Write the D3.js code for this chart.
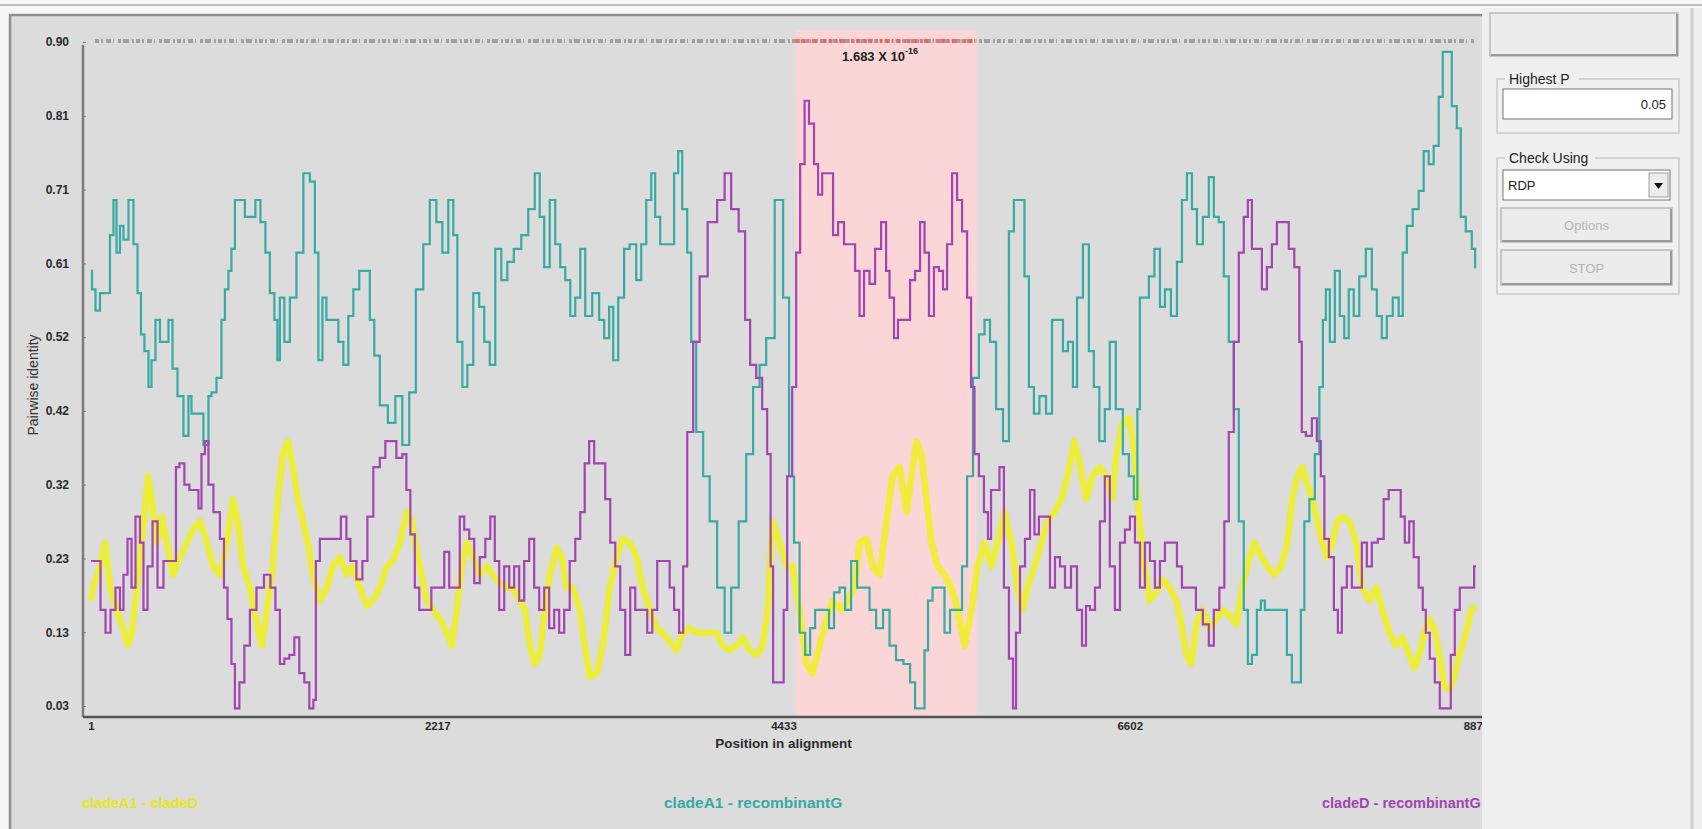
<!DOCTYPE html>
<html>
<head>
<meta charset="utf-8">
<script src="https://cdn.jsdelivr.net/npm/d3@7"></script>
<style>
  body { margin: 0; background: #ffffff; overflow: hidden; }
  svg { display: block; font-family: "Liberation Sans", Arial, sans-serif; }
</style>
</head>
<body>
<svg id="chart" width="1702" height="829"></svg>
<script>
// alignment length and axis labels
const seqLength = 8870;
const xTickLabels = ["1", "2217", "4433", "6602", "8870"];
const yTickLabels = ["0.03", "0.13", "0.23", "0.32", "0.42", "0.52", "0.61", "0.71", "0.81", "0.90"];
const yTickMin = 0.03;
const yTickMax = 0.9;

const seriesNames = ["cladeA1 - cladeD", "cladeA1 - recombinantG", "cladeD - recombinantG"];
const seriesColors = ["#f0f01e", "#36aaa3", "#a244b1"];

// recombination region (alignment positions) and its p-value
const regionStart = 4513;
const regionEnd = 5671;
const regionP = "1.683 X 10";
const regionPExp = "-16";

// [position, pairwise identity]
const yellowPoints = [[1,0.168],[14,0.185],[59,0.213],[91,0.244],[123,0.185],[167,0.156],[206,0.132],[238,0.109],[263,0.126],[295,0.185],[334,0.261],[366,0.331],[391,0.301],[423,0.244],[455,0.278],[487,0.244],[526,0.202],[571,0.225],[615,0.244],[654,0.261],[699,0.272],[743,0.244],[782,0.213],[827,0.202],[871,0.244],[910,0.301],[942,0.272],[974,0.213],[1019,0.185],[1063,0.137],[1095,0.109],[1127,0.156],[1166,0.213],[1198,0.301],[1230,0.360],[1262,0.377],[1294,0.343],[1326,0.301],[1358,0.272],[1390,0.244],[1422,0.202],[1467,0.168],[1511,0.185],[1550,0.213],[1595,0.225],[1639,0.202],[1678,0.213],[1723,0.185],[1767,0.161],[1806,0.168],[1851,0.185],[1895,0.213],[1934,0.220],[1979,0.244],[2023,0.284],[2055,0.272],[2075,0.244],[2107,0.213],[2151,0.168],[2190,0.156],[2235,0.144],[2279,0.126],[2311,0.109],[2343,0.156],[2375,0.213],[2407,0.244],[2446,0.225],[2491,0.202],[2535,0.213],[2574,0.202],[2619,0.191],[2663,0.185],[2702,0.185],[2747,0.168],[2779,0.156],[2811,0.109],[2843,0.085],[2875,0.097],[2907,0.156],[2939,0.202],[2983,0.237],[3015,0.225],[3047,0.185],[3086,0.185],[3131,0.156],[3163,0.109],[3195,0.068],[3239,0.073],[3278,0.109],[3323,0.185],[3367,0.225],[3406,0.249],[3451,0.244],[3495,0.225],[3534,0.185],[3579,0.156],[3623,0.132],[3662,0.126],[3707,0.114],[3751,0.103],[3790,0.126],[3835,0.132],[3879,0.126],[4007,0.126],[4046,0.109],[4091,0.103],[4135,0.109],[4174,0.120],[4219,0.103],[4263,0.097],[4302,0.109],[4334,0.156],[4366,0.272],[4410,0.244],[4455,0.213],[4494,0.213],[4538,0.156],[4583,0.085],[4622,0.073],[4667,0.109],[4711,0.144],[4750,0.168],[4807,0.156],[4846,0.168],[4891,0.185],[4923,0.244],[4967,0.249],[5006,0.213],[5051,0.202],[5095,0.272],[5134,0.331],[5178,0.343],[5223,0.284],[5255,0.331],[5287,0.377],[5319,0.360],[5351,0.301],[5383,0.244],[5422,0.213],[5467,0.202],[5511,0.185],[5550,0.156],[5595,0.109],[5639,0.156],[5678,0.213],[5723,0.244],[5767,0.213],[5806,0.244],[5851,0.284],[5895,0.244],[5934,0.185],[5966,0.156],[5998,0.185],[6043,0.213],[6087,0.244],[6126,0.272],[6171,0.284],[6215,0.301],[6254,0.331],[6299,0.377],[6331,0.348],[6375,0.301],[6414,0.331],[6459,0.343],[6503,0.331],[6541,0.301],[6567,0.360],[6606,0.401],[6651,0.407],[6683,0.360],[6715,0.272],[6747,0.213],[6779,0.168],[6823,0.179],[6862,0.196],[6907,0.185],[6951,0.168],[6983,0.137],[7015,0.097],[7047,0.085],[7079,0.137],[7118,0.156],[7163,0.132],[7207,0.144],[7246,0.156],[7291,0.149],[7335,0.137],[7374,0.185],[7419,0.225],[7451,0.244],[7495,0.225],[7534,0.213],[7579,0.202],[7623,0.213],[7662,0.244],[7694,0.301],[7726,0.331],[7758,0.343],[7790,0.320],[7822,0.301],[7854,0.272],[7886,0.244],[7918,0.225],[7950,0.244],[7982,0.272],[8014,0.278],[8059,0.272],[8103,0.244],[8142,0.185],[8187,0.168],[8231,0.185],[8270,0.156],[8315,0.126],[8359,0.109],[8398,0.120],[8443,0.097],[8475,0.080],[8507,0.097],[8539,0.126],[8571,0.144],[8603,0.132],[8635,0.097],[8667,0.056],[8699,0.051],[8731,0.068],[8763,0.097],[8807,0.126],[8839,0.156],[8870,0.161]];

const tealPoints = [[1,0.600],[14,0.576],[46,0.548],[71,0.571],[110,0.571],[135,0.647],[155,0.693],[174,0.624],[199,0.659],[219,0.641],[263,0.693],[283,0.635],[315,0.571],[327,0.517],[359,0.495],[379,0.448],[398,0.483],[430,0.536],[455,0.507],[487,0.507],[507,0.536],[539,0.472],[571,0.436],[615,0.384],[635,0.436],[654,0.413],[699,0.413],[743,0.372],[763,0.436],[782,0.441],[827,0.460],[846,0.536],[871,0.576],[891,0.600],[910,0.629],[935,0.693],[974,0.693],[999,0.671],[1038,0.671],[1070,0.693],[1102,0.664],[1134,0.624],[1159,0.571],[1191,0.536],[1198,0.483],[1223,0.565],[1255,0.507],[1294,0.565],[1339,0.624],[1383,0.728],[1422,0.717],[1447,0.624],[1467,0.483],[1499,0.565],[1518,0.536],[1575,0.536],[1595,0.507],[1639,0.477],[1659,0.541],[1703,0.576],[1735,0.600],[1774,0.600],[1799,0.536],[1831,0.489],[1870,0.424],[1934,0.401],[1966,0.436],[2023,0.372],[2055,0.441],[2107,0.576],[2151,0.635],[2190,0.693],[2235,0.664],[2267,0.624],[2311,0.693],[2331,0.647],[2363,0.507],[2395,0.448],[2427,0.477],[2471,0.571],[2503,0.553],[2535,0.507],[2574,0.477],[2606,0.629],[2651,0.588],[2683,0.612],[2734,0.629],[2779,0.647],[2823,0.681],[2862,0.728],[2887,0.671],[2919,0.605],[2958,0.693],[2990,0.635],[3022,0.605],[3054,0.588],[3086,0.541],[3118,0.565],[3150,0.629],[3182,0.541],[3239,0.571],[3271,0.536],[3303,0.512],[3335,0.553],[3355,0.483],[3399,0.565],[3431,0.629],[3470,0.635],[3515,0.588],[3534,0.635],[3579,0.693],[3598,0.728],[3630,0.671],[3662,0.635],[3719,0.635],[3751,0.728],[3771,0.757],[3803,0.681],[3835,0.624],[3854,0.507],[3899,0.389],[3943,0.331],[3982,0.272],[4039,0.185],[4078,0.126],[4123,0.185],[4174,0.272],[4219,0.360],[4263,0.448],[4302,0.477],[4347,0.512],[4411,0.693],[4455,0.565],[4487,0.331],[4519,0.244],[4558,0.126],[4590,0.097],[4622,0.132],[4654,0.156],[4711,0.156],[4743,0.132],[4775,0.179],[4814,0.185],[4846,0.156],[4891,0.220],[4923,0.185],[4967,0.185],[5006,0.156],[5051,0.132],[5095,0.156],[5134,0.109],[5178,0.090],[5230,0.085],[5262,0.061],[5294,0.027],[5326,0.027],[5351,0.103],[5371,0.168],[5409,0.185],[5447,0.185],[5486,0.126],[5518,0.156],[5563,0.156],[5595,0.213],[5627,0.331],[5671,0.460],[5703,0.517],[5742,0.536],[5774,0.507],[5819,0.419],[5863,0.377],[5895,0.652],[5927,0.693],[5966,0.693],[5991,0.593],[6023,0.448],[6055,0.413],[6094,0.436],[6139,0.413],[6171,0.536],[6215,0.536],[6235,0.495],[6279,0.507],[6299,0.448],[6331,0.565],[6375,0.635],[6407,0.495],[6439,0.448],[6477,0.377],[6509,0.419],[6541,0.507],[6586,0.419],[6631,0.360],[6663,0.331],[6695,0.301],[6708,0.419],[6727,0.565],[6759,0.565],[6791,0.593],[6830,0.629],[6862,0.553],[6894,0.576],[6939,0.541],[6971,0.612],[7003,0.693],[7035,0.728],[7067,0.681],[7099,0.635],[7143,0.671],[7175,0.723],[7207,0.671],[7239,0.664],[7271,0.593],[7303,0.507],[7335,0.419],[7367,0.272],[7399,0.156],[7419,0.085],[7451,0.097],[7483,0.156],[7502,0.168],[7534,0.156],[7643,0.156],[7675,0.097],[7707,0.061],[7739,0.061],[7758,0.156],[7784,0.272],[7822,0.301],[7854,0.360],[7880,0.448],[7899,0.536],[7918,0.576],[7950,0.507],[7982,0.600],[8014,0.541],[8039,0.512],[8071,0.576],[8103,0.541],[8142,0.593],[8187,0.629],[8219,0.576],[8251,0.541],[8283,0.512],[8315,0.541],[8359,0.565],[8391,0.541],[8411,0.624],[8443,0.659],[8487,0.681],[8519,0.705],[8551,0.757],[8583,0.740],[8615,0.764],[8647,0.828],[8667,0.887],[8699,0.887],[8731,0.816],[8763,0.787],[8782,0.671],[8827,0.652],[8859,0.629],[8870,0.605]];

const purplePoints = [[1,0.220],[46,0.220],[78,0.156],[110,0.126],[142,0.156],[174,0.185],[199,0.156],[219,0.202],[251,0.249],[270,0.185],[302,0.278],[327,0.244],[347,0.156],[379,0.213],[411,0.272],[443,0.185],[487,0.220],[539,0.220],[551,0.343],[583,0.348],[615,0.320],[647,0.313],[679,0.313],[699,0.289],[718,0.360],[743,0.377],[763,0.320],[807,0.284],[846,0.249],[859,0.185],[891,0.144],[910,0.085],[935,0.027],[967,0.061],[999,0.109],[1038,0.156],[1083,0.185],[1134,0.202],[1166,0.185],[1198,0.156],[1223,0.085],[1255,0.092],[1287,0.097],[1319,0.120],[1351,0.073],[1383,0.061],[1415,0.027],[1435,0.038],[1447,0.220],[1486,0.249],[1575,0.249],[1627,0.278],[1646,0.249],[1678,0.220],[1723,0.196],[1755,0.220],[1787,0.278],[1831,0.343],[1870,0.355],[1902,0.377],[1934,0.377],[1979,0.355],[2011,0.360],[2030,0.313],[2062,0.255],[2087,0.185],[2119,0.156],[2158,0.156],[2203,0.185],[2247,0.185],[2279,0.232],[2311,0.185],[2350,0.185],[2375,0.278],[2407,0.261],[2439,0.249],[2471,0.191],[2510,0.225],[2542,0.249],[2574,0.278],[2599,0.220],[2631,0.156],[2663,0.213],[2695,0.185],[2727,0.213],[2759,0.168],[2791,0.220],[2823,0.249],[2855,0.185],[2887,0.156],[2919,0.185],[2951,0.132],[2983,0.156],[3015,0.126],[3047,0.156],[3086,0.220],[3118,0.249],[3150,0.284],[3175,0.348],[3207,0.377],[3239,0.348],[3278,0.348],[3310,0.301],[3342,0.244],[3374,0.213],[3406,0.156],[3438,0.097],[3470,0.185],[3502,0.156],[3547,0.156],[3579,0.126],[3611,0.156],[3643,0.220],[3694,0.220],[3719,0.185],[3751,0.156],[3783,0.126],[3803,0.213],[3835,0.389],[3879,0.507],[3918,0.593],[3982,0.664],[4039,0.693],[4078,0.728],[4123,0.681],[4174,0.652],[4206,0.536],[4238,0.477],[4283,0.460],[4315,0.419],[4347,0.360],[4359,0.213],[4379,0.061],[4430,0.061],[4443,0.156],[4475,0.331],[4507,0.448],[4526,0.624],[4558,0.740],[4583,0.823],[4615,0.793],[4647,0.740],[4667,0.700],[4699,0.728],[4743,0.728],[4763,0.647],[4807,0.664],[4839,0.635],[4878,0.635],[4910,0.600],[4935,0.541],[4967,0.600],[5006,0.583],[5038,0.629],[5083,0.664],[5102,0.600],[5127,0.565],[5159,0.512],[5178,0.536],[5230,0.536],[5262,0.588],[5294,0.600],[5326,0.664],[5351,0.624],[5383,0.541],[5415,0.605],[5447,0.600],[5467,0.576],[5499,0.635],[5531,0.728],[5563,0.693],[5595,0.652],[5627,0.565],[5646,0.448],[5671,0.360],[5703,0.331],[5735,0.284],[5755,0.249],[5774,0.313],[5806,0.313],[5831,0.343],[5863,0.185],[5895,0.092],[5915,0.027],[5934,0.126],[5966,0.213],[5998,0.249],[6030,0.313],[6055,0.255],[6087,0.278],[6126,0.278],[6158,0.185],[6190,0.225],[6222,0.213],[6254,0.185],[6299,0.213],[6331,0.156],[6363,0.109],[6382,0.161],[6414,0.156],[6446,0.185],[6477,0.272],[6509,0.331],[6541,0.213],[6574,0.156],[6606,0.244],[6638,0.261],[6670,0.278],[6702,0.244],[6734,0.185],[6766,0.244],[6798,0.220],[6830,0.185],[6862,0.220],[6894,0.244],[6939,0.244],[6971,0.213],[7003,0.185],[7054,0.185],[7099,0.156],[7143,0.137],[7175,0.109],[7207,0.156],[7246,0.185],[7271,0.272],[7303,0.389],[7335,0.507],[7367,0.624],[7399,0.671],[7419,0.693],[7451,0.629],[7483,0.629],[7515,0.576],[7547,0.605],[7579,0.635],[7611,0.664],[7655,0.664],[7687,0.629],[7726,0.605],[7751,0.507],[7758,0.389],[7803,0.384],[7835,0.407],[7867,0.377],[7886,0.331],[7912,0.249],[7944,0.225],[7976,0.156],[7995,0.126],[8027,0.185],[8059,0.213],[8091,0.185],[8123,0.185],[8155,0.244],[8187,0.213],[8219,0.244],[8263,0.249],[8295,0.301],[8327,0.313],[8378,0.313],[8398,0.278],[8430,0.244],[8455,0.272],[8487,0.225],[8519,0.185],[8539,0.156],[8558,0.126],[8590,0.092],[8622,0.061],[8654,0.027],[8699,0.027],[8718,0.097],[8750,0.156],[8782,0.185],[8846,0.185],[8870,0.213]];

// side panel values
const highestP = "0.05";
const checkUsing = "RDP";

(() => {
  const svg = d3.select("#chart");
  const W = 1702, H = 829;
  const panel = { left: 10, top: 15, right: 1482 };
  const plot = { left: 83, top: 45, right: 1482, bottom: 717 };

  // window background
  svg.append("rect").attr("width", W).attr("height", H).attr("fill", "#f7f7f7");
  svg.append("line")
    .attr("x1", 0).attr("x2", W).attr("y1", 5).attr("y2", 5)
    .attr("stroke", "#bdbdbd").attr("stroke-width", 2);

  // grey graph panel
  svg.append("rect")
    .attr("x", panel.left).attr("y", panel.top)
    .attr("width", panel.right - panel.left).attr("height", H - panel.top)
    .attr("fill", "#dcdcdc");
  svg.append("path")
    .attr("d", `M${panel.left},${H} V${panel.top} H${panel.right}`)
    .attr("fill", "none").attr("stroke", "#8f8f8f").attr("stroke-width", 2.5);

  const x = d3.scaleLinear().domain([1, seqLength]).range([91, 1476]);
  const y = d3.scaleLinear().domain([yTickMin, yTickMax]).range([706, 42]);

  // recombinant region
  svg.append("rect")
    .attr("x", x(regionStart)).attr("y", 30)
    .attr("width", x(regionEnd) - x(regionStart))
    .attr("height", plot.bottom - 30)
    .attr("fill", "#fbd6d6");

  // informative sites strip along the top
  svg.append("line")
    .attr("x1", x(1) + 4).attr("x2", x(seqLength))
    .attr("y1", 41).attr("y2", 41)
    .attr("stroke", "#6e6e6e").attr("stroke-width", 4).attr("opacity", 0.55)
    .attr("stroke-dasharray", "4 2 2 3 5 2 1 4 3 2 6 3 2 2");
  svg.append("line")
    .attr("x1", x(regionStart)).attr("x2", x(regionEnd))
    .attr("y1", 41).attr("y2", 41)
    .attr("stroke", "#e85a5a").attr("stroke-width", 4).attr("opacity", 0.8)
    .attr("stroke-dasharray", "3 2 4 3 2 2 5 4 1 2");

  svg.append("text")
    .attr("x", x((regionStart + regionEnd) / 2) - 6).attr("y", 61)
    .attr("text-anchor", "middle")
    .attr("font-size", 13).attr("font-weight", "bold").attr("fill", "#222")
    .text(regionP)
    .append("tspan").attr("dy", -7).attr("font-size", 9).text(regionPExp);

  // lines: the identity plots are step-like (window moves site by site)
  const line = d3.line()
    .x((d) => x(d[0]))
    .y((d) => y(d[1]));

  svg.append("path").datum(yellowPoints)
    .attr("d", line.curve(d3.curveLinear)).attr("fill", "none")
    .attr("stroke", seriesColors[0]).attr("stroke-width", 6.5)
    .attr("stroke-linejoin", "round").attr("opacity", 0.85);
  svg.append("path").datum(tealPoints)
    .attr("d", line.curve(d3.curveStep)).attr("fill", "none")
    .attr("stroke", seriesColors[1]).attr("stroke-width", 2.2);
  svg.append("path").datum(purplePoints)
    .attr("d", line.curve(d3.curveStep)).attr("fill", "none")
    .attr("stroke", seriesColors[2]).attr("stroke-width", 2.2);

  // axes
  const yTicks = d3.range(yTickLabels.length).map(
    (i) => yTickMin + (i * (yTickMax - yTickMin)) / (yTickLabels.length - 1)
  );
  const yAxis = svg.append("g")
    .attr("transform", `translate(${plot.left},0)`)
    .call(d3.axisLeft(y).tickValues(yTicks).tickFormat((d, i) => yTickLabels[i]).tickSize(3).tickSizeOuter(0).tickPadding(11));
  yAxis.select(".domain").remove();
  yAxis.selectAll("line").attr("stroke", "#777").attr("x2", 3);
  yAxis.selectAll("text").attr("font-size", 12).attr("font-weight", "bold").attr("fill", "#2a2a2a")
    .attr("font-family", "'Liberation Sans', Arial, sans-serif");
  svg.append("line")
    .attr("x1", plot.left).attr("x2", plot.left)
    .attr("y1", plot.top).attr("y2", plot.bottom)
    .attr("stroke", "#7a7a7a").attr("stroke-width", 2.5);

  const xTicks = d3.range(xTickLabels.length).map(
    (i) => 1 + (i * (seqLength - 1)) / (xTickLabels.length - 1)
  );
  const xAxis = svg.append("g")
    .attr("transform", `translate(0,${plot.bottom})`)
    .call(d3.axisBottom(x).tickValues(xTicks).tickFormat((d, i) => xTickLabels[i]).tickSize(0).tickPadding(5));
  xAxis.select(".domain").remove();
  xAxis.selectAll("text").attr("font-size", 11.5).attr("font-weight", "bold").attr("fill", "#2a2a2a")
    .attr("font-family", "'Liberation Sans', Arial, sans-serif");
  svg.append("line")
    .attr("x1", plot.left).attr("x2", plot.right)
    .attr("y1", plot.bottom).attr("y2", plot.bottom)
    .attr("stroke", "#555").attr("stroke-width", 2.5);

  svg.append("text")
    .attr("x", x(xTicks[2])).attr("y", 748)
    .attr("text-anchor", "middle")
    .attr("font-size", 13.5).attr("font-weight", "bold").attr("fill", "#2a2a2a")
    .text("Position in alignment");

  svg.append("text")
    .attr("transform", "translate(38,385) rotate(-90)")
    .attr("text-anchor", "middle")
    .attr("font-size", 14).attr("fill", "#333")
    .text("Pairwise identity");

  // legend under the plot
  const legendX = [82, 664, 1322];
  seriesNames.forEach((name, i) => {
    svg.append("text")
      .attr("x", legendX[i]).attr("y", 808)
      .attr("font-size", i === 1 ? 15.5 : 14.5).attr("font-weight", "bold")
      .attr("fill", i === 0 ? "#e6e61c" : seriesColors[i])
      .text(name);
  });

  // side panel with controls (covers the end of the axis)
  const side = svg.append("g");
  side.append("rect")
    .attr("x", panel.right).attr("y", 8).attr("width", W - panel.right).attr("height", H - 8)
    .attr("fill", "#f0f0f0");
  side.append("line")
    .attr("x1", 1692).attr("x2", 1692).attr("y1", 8).attr("y2", H)
    .attr("stroke", "#cfcfcf").attr("stroke-width", 3);

  const button = (x0, y0, w, h, label, color) => {
    side.append("rect")
      .attr("x", x0).attr("y", y0).attr("width", w).attr("height", h)
      .attr("fill", "#ececec").attr("stroke", "#b8b8b8").attr("stroke-width", 1.5);
    side.append("path")
      .attr("d", `M${x0 + 1},${y0 + h - 1} H${x0 + w - 1} V${y0 + 1}`)
      .attr("fill", "none").attr("stroke", "#9a9a9a").attr("stroke-width", 2);
    if (label) {
      side.append("text")
        .attr("x", x0 + w / 2).attr("y", y0 + h / 2 + 5)
        .attr("text-anchor", "middle").attr("font-size", 13)
        .attr("fill", color).text(label);
    }
  };

  const group = (x0, y0, w, h, label) => {
    side.append("rect")
      .attr("x", x0).attr("y", y0).attr("width", w).attr("height", h)
      .attr("fill", "none").attr("stroke", "#c9c9c9").attr("stroke-width", 1.5);
    side.append("rect")
      .attr("x", x0 + 8).attr("y", y0 - 8).attr("width", label.length * 8.2).attr("height", 14)
      .attr("fill", "#f0f0f0");
    side.append("text")
      .attr("x", x0 + 12).attr("y", y0 + 5)
      .attr("font-size", 14).attr("fill", "#222").text(label);
  };

  button(1490, 13, 188, 43, "", "#aaa");

  group(1497, 79, 182, 54, "Highest P");
  side.append("rect")
    .attr("x", 1503).attr("y", 89).attr("width", 169).attr("height", 30)
    .attr("fill", "#ffffff").attr("stroke", "#8a8a8a").attr("stroke-width", 1.2);
  side.append("text")
    .attr("x", 1666).attr("y", 109).attr("text-anchor", "end")
    .attr("font-size", 13).attr("fill", "#222").text(highestP);

  group(1497, 158, 182, 136, "Check Using");
  side.append("rect")
    .attr("x", 1503).attr("y", 170).attr("width", 167).attr("height", 30)
    .attr("fill", "#ffffff").attr("stroke", "#8a8a8a").attr("stroke-width", 1.2);
  side.append("text")
    .attr("x", 1508).attr("y", 190)
    .attr("font-size", 13).attr("fill", "#222").text(checkUsing);
  side.append("rect")
    .attr("x", 1649).attr("y", 173).attr("width", 19).attr("height", 24)
    .attr("fill", "#ececec").attr("stroke", "#a0a0a0");
  side.append("path")
    .attr("d", "M1654,183 L1663,183 L1658.5,189 Z").attr("fill", "#111");

  button(1501, 208, 171, 34, "Options", "#b4b4b4");
  button(1501, 250, 171, 35, "STOP", "#b4b4b4");
})();
</script>
</body>
</html>
